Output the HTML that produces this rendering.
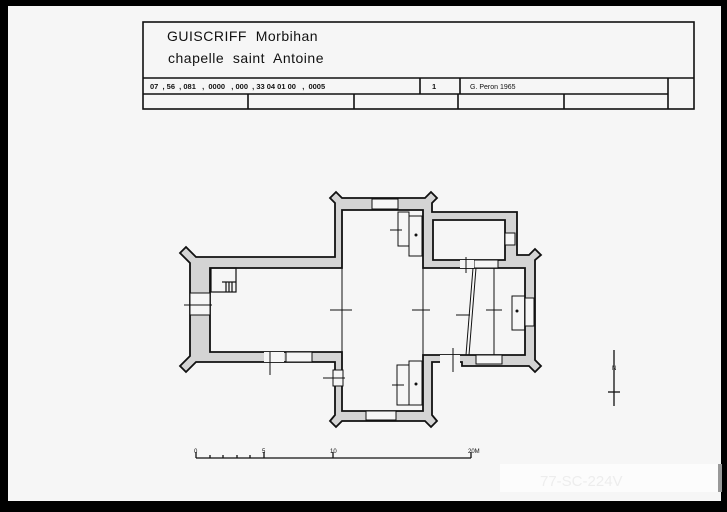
<!DOCTYPE html>
<html><head><meta charset="utf-8"><style>
html,body{margin:0;padding:0;background:#000;}
svg{display:block;}
text{font-family:"Liberation Sans","DejaVu Sans",sans-serif;}
</style></head><body>
<svg width="727" height="512" viewBox="0 0 727 512" xmlns="http://www.w3.org/2000/svg">
<rect x="0" y="0" width="727" height="512" fill="#000"/>
<rect x="8" y="6" width="713" height="495" fill="#f6f6f6"/>
<rect x="500" y="464" width="222" height="28" fill="#fcfcfc"/>
<rect x="718" y="464" width="4" height="28" fill="#999"/>
<text x="540" y="486" font-size="15" fill="#ededed">77-SC-224V</text>

<!-- title block -->
<g fill="none" stroke="#111" stroke-width="1.6">
<rect x="143" y="22" width="551" height="87"/>
<line x1="143" y1="78" x2="694" y2="78"/>
<line x1="143" y1="94" x2="668" y2="94"/>
<line x1="668" y1="78" x2="668" y2="109"/>
<line x1="420" y1="78" x2="420" y2="94"/>
<line x1="460" y1="78" x2="460" y2="94"/>
<line x1="248" y1="94" x2="248" y2="109"/>
<line x1="354" y1="94" x2="354" y2="109"/>
<line x1="458" y1="94" x2="458" y2="109"/>
<line x1="564" y1="94" x2="564" y2="109"/>
</g>
<text x="167" y="41" font-size="14" letter-spacing="0.5" fill="#111" xml:space="preserve">GUISCRIFF  Morbihan</text>
<text x="168" y="63" font-size="14" letter-spacing="0.5" fill="#111" xml:space="preserve">chapelle  saint  Antoine</text>
<text x="150" y="89" font-size="7.5" font-weight="bold" fill="#111" xml:space="preserve">07  , 56  , 081   ,  0000   , 000  , 33 04 01 00   ,  0005</text>
<text x="432" y="89" font-size="7.5" font-weight="bold" fill="#111">1</text>
<text x="470" y="89" font-size="7" fill="#111">G. Peron  1965</text>

<!-- plan walls -->
<path fill-rule="evenodd" fill="#d4d4d4" stroke="#111" stroke-width="1.8" d="
M196,257 L335,257 L335,203 L330,198 L336,192 L342,198 L425,198 L431,192 L437,198 L432,203 L432,212 L517,212 L517,255 L529,255 L535,249 L541,255 L535,260 L535,360 L541,366 L535,372 L529,366 L462,366 L462,362 L432,362 L432,415 L437,421 L431,427 L425,421 L342,421 L336,427 L330,421 L335,415 L335,362 L196,362 L186,372 L180,366 L190,356 L190,263 L180,253 L186,247 Z
M210,268 L342,268 L342,210 L423,210 L423,268 L525,268 L525,355 L423,355 L423,411 L342,411 L342,352 L210,352 Z
M433,220 L505,220 L505,260 L433,260 Z"/>
<!-- openings/windows -->
<g fill="#f6f6f6" stroke="#111" stroke-width="1">
<rect x="372" y="199" width="26" height="10"/>
<rect x="366" y="411" width="30" height="9"/>
<rect x="286" y="352" width="26" height="10"/>
<rect x="476" y="355" width="26" height="9"/>
<rect x="525" y="298" width="9" height="28"/>
<rect x="474" y="260" width="24" height="8"/>
<rect x="505" y="233" width="10" height="12"/>
<rect x="264" y="352" width="20" height="10" stroke="none"/>
<rect x="440" y="355" width="20" height="10" stroke="none"/>
<rect x="460" y="260" width="14" height="8" stroke="none"/>
<rect x="190" y="293" width="20" height="22"/>
<rect x="333" y="370" width="10" height="16"/>
</g>
<!-- stair -->
<g fill="none" stroke="#111" stroke-width="1.2">
<rect x="211" y="268" width="25" height="24"/>
<line x1="222" y1="282" x2="236" y2="282"/>
<line x1="226" y1="282" x2="226" y2="292"/><line x1="229" y1="282" x2="229" y2="292"/><line x1="232" y1="282" x2="232" y2="292"/>
</g>
<!-- interior lines -->
<g fill="none" stroke="#111" stroke-width="1">
<line x1="342" y1="268" x2="342" y2="352"/>
<line x1="423" y1="268" x2="423" y2="355"/>
<line x1="473" y1="268" x2="466" y2="355"/>
<line x1="476" y1="268" x2="469" y2="355"/>
<line x1="494" y1="268" x2="494" y2="355"/>
<rect x="398" y="212" width="11" height="34"/>
<rect x="409" y="216" width="13" height="40"/>
<rect x="397" y="365" width="12" height="40"/>
<rect x="409" y="361" width="13" height="44"/>
<rect x="512" y="296" width="13" height="34"/>
<line x1="330" y1="310" x2="352" y2="310"/>
<line x1="412" y1="310" x2="430" y2="310"/>
<line x1="456" y1="315" x2="470" y2="315"/>
<line x1="486" y1="310" x2="502" y2="310"/>
<line x1="390" y1="230" x2="402" y2="230"/>
<line x1="392" y1="385" x2="404" y2="385"/>
<line x1="184" y1="305" x2="212" y2="305"/>
<line x1="270" y1="352" x2="270" y2="375"/>
<line x1="453" y1="348" x2="453" y2="372"/>
<line x1="466" y1="257" x2="466" y2="273"/>
<line x1="323" y1="378" x2="345" y2="378"/>
</g>
<g fill="#111">
<circle cx="416" cy="235" r="1.5"/><circle cx="416" cy="384" r="1.5"/><circle cx="517" cy="311" r="1.5"/>
</g>
<!-- scale bar -->
<g stroke="#111" stroke-width="1.3" fill="none">
<line x1="196" y1="458" x2="471" y2="458"/>
<line x1="196" y1="452" x2="196" y2="458"/>
<line x1="264" y1="452" x2="264" y2="458"/>
<line x1="333" y1="452" x2="333" y2="458"/>
<line x1="471" y1="452" x2="471" y2="458"/>
<line x1="210" y1="455" x2="210" y2="458"/><line x1="223" y1="455" x2="223" y2="458"/><line x1="237" y1="455" x2="237" y2="458"/><line x1="250" y1="455" x2="250" y2="458"/>
<line x1="614" y1="350" x2="614" y2="406"/>
<line x1="608" y1="392" x2="620" y2="392"/>
</g>
<g font-size="6" fill="#111">
<text x="194" y="453">0</text><text x="262" y="453">5</text><text x="330" y="453">10</text><text x="468" y="453">20M</text>
<text x="612" y="370" font-size="6">N</text>
</g>
</svg>
</body></html>
